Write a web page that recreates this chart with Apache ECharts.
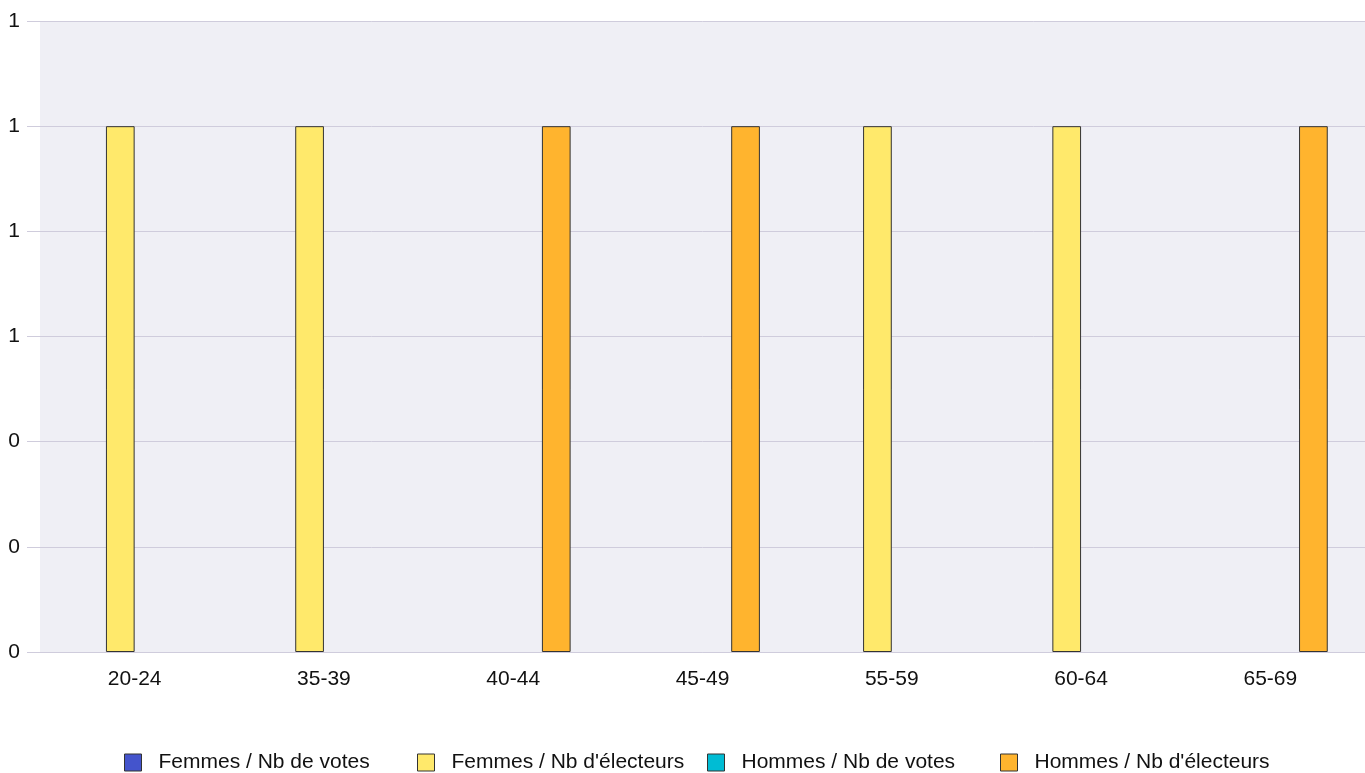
<!DOCTYPE html>
<html><head><meta charset="utf-8">
<script src="https://cdn.jsdelivr.net/npm/echarts@6/dist/echarts.min.js"></script>
<style>html,body{margin:0;padding:0;background:#fff}#c{width:1365px;height:773px}</style>
</head><body><div id="c"></div>
<script>
const categories = ['20-24','35-39','40-44','45-49','55-59','60-64','65-69'];
const femmesVotes = [0,0,0,0,0,0,0];
const femmesElecteurs = [1,1,0,0,1,1,0];
const hommesVotes = [0,0,0,0,0,0,0];
const hommesElecteurs = [0,0,1,1,0,0,1];
const seriesNames = ['Femmes / Nb de votes',"Femmes / Nb d'électeurs",'Hommes / Nb de votes',"Hommes / Nb d'électeurs"];
const colors = ['#4454cc','#ffe96b','#00bcd4','#ffb42e'];
const yTicks = [0,0.2,0.4,0.6,0.8,1,1.2];

const chart = echarts.init(document.getElementById('c'));
const font = 'Liberation Sans, Arial, sans-serif';
const mk = (name, data, color) => ({
  name, type:'bar', data: data.map(v => v === 0 ? null : v),
  barWidth:28.7, barGap:'0%',
  itemStyle:{color, borderColor:'#333', borderWidth:1},
  emphasis:{disabled:true}
});
const legendLefts = [124, 417, 707, 1000];
const legends = seriesNames.map((n, i) => ({
  top:752, left:legendLefts[i], padding:0, icon:'rect', itemWidth:17, itemHeight:17,
  textStyle:{fontFamily:font,fontSize:21,color:'#111',padding:[0,0,0,12]},
  itemStyle:{borderColor:'#333',borderWidth:1},
  selectedMode:false,
  data:[n]
}));
chart.setOption({
  animation:false,
  color: colors,
  grid:{left:40,right:0,top:21,bottom:121,show:true,backgroundColor:'#efeff5',borderWidth:0},
  legend: legends,
  xAxis:{
    type:'category', data:categories,
    axisLine:{show:true,lineStyle:{color:'#cfccdc'}},
    axisTick:{show:false},
    axisLabel:{fontFamily:font,fontSize:21,color:'#111',margin:17}
  },
  yAxis:{
    type:'value', min:yTicks[0], max:yTicks[yTicks.length-1], interval:0.2,
    axisLine:{show:false},
    axisTick:{show:true,length:13,lineStyle:{color:'#cfccdc'}},
    splitLine:{lineStyle:{color:'#cfccdc'}},
    axisLabel:{fontFamily:font,fontSize:21,color:'#111',margin:20,
      formatter:v=>String(Math.round(v))}
  },
  series:[
    mk(seriesNames[0], femmesVotes, colors[0]),
    mk(seriesNames[1], femmesElecteurs, colors[1]),
    mk(seriesNames[2], hommesVotes, colors[2]),
    mk(seriesNames[3], hommesElecteurs, colors[3])
  ]
});
</script></body></html>
